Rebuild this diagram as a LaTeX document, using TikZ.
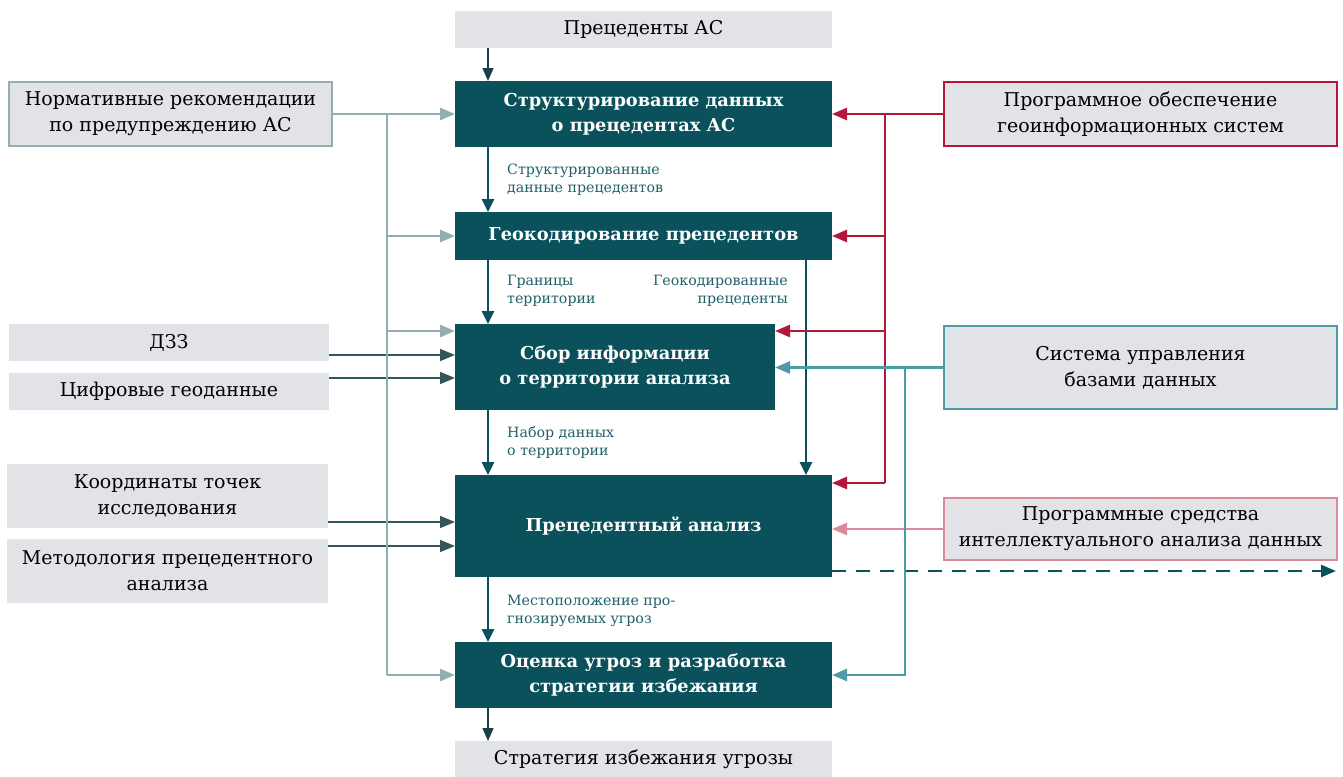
\documentclass[tikz,border=0pt]{standalone}
\usepackage{fontspec}
\setmainfont{DejaVu Serif}
\usetikzlibrary{arrows.meta,calc}
\definecolor{darkteal}{HTML}{0A515C}
\definecolor{lightgray}{HTML}{E2E3E7}
\definecolor{grayline}{HTML}{93ADB0}
\definecolor{crimson}{HTML}{B3183B}
\definecolor{tealc}{HTML}{4C9BA6}
\definecolor{pinkc}{HTML}{DB8A9B}
\definecolor{inputdark}{HTML}{1B3F47}
\definecolor{labelcol}{HTML}{20606A}
\begin{document}
\begin{tikzpicture}[x=1pt,y=-1pt,
  mainbox/.style={fill=darkteal, text=white, font=\bfseries\fontsize{17.8}{25}\selectfont, align=center, inner sep=0pt, outer sep=0pt, anchor=north west},
  graybox/.style={fill=lightgray, text=black, font=\fontsize{19}{26}\selectfont, align=center, inner sep=0pt, outer sep=0pt, anchor=north west},
  lbl/.style={text=labelcol, font=\fontsize{14.2}{18}\selectfont, inner sep=0pt},
  tip/.style={-{Triangle[length=15pt,width=12pt]}},
  mainarrow/.style={-{Triangle[length=13pt,width=12pt]}, draw=darkteal, line width=2.8pt},
  thinarrow/.style={-{Triangle[length=13pt,width=11pt]}, draw=inputdark, line width=1.5pt},
  inarrow/.style={tip, draw=inputdark!80!grayline, line width=1.5pt},
  garrow/.style={tip, draw=grayline, line width=2.7pt},
  gline/.style={draw=grayline, line width=2.7pt},
  carrow/.style={tip, draw=crimson, line width=2.5pt},
  cline/.style={draw=crimson, line width=2.5pt},
  tarrow/.style={tip, draw=tealc, line width=2.5pt},
  parrow/.style={tip, draw=pinkc, line width=2.5pt},
  dasharrow/.style={tip, draw=darkteal, line width=2.5pt, dash pattern=on 14pt off 10pt}]
\useasboundingbox (0,0) rectangle (1343,776);
% centre column
\node[graybox, minimum width=377pt, minimum height=37pt] (top) at (455,11) {Прецеденты АС};
\node[mainbox, minimum width=377pt, minimum height=66pt] (s1) at (455,81) {Структурирование данных\\о прецедентах АС};
\node[mainbox, minimum width=377pt, minimum height=48pt] (s2) at (455,212) {Геокодирование прецедентов};
\node[mainbox, minimum width=320pt, minimum height=86pt] (s3) at (455,324) {Сбор информации\\о территории анализа};
\node[mainbox, minimum width=377pt, minimum height=102pt] (s4) at (455,475) {Прецедентный анализ};
\node[mainbox, minimum width=377pt, minimum height=66pt] (s5) at (455,642) {Оценка угроз и разработка\\стратегии избежания};
\node[graybox, minimum width=377pt, minimum height=36pt] (bot) at (455,741) {Стратегия избежания угрозы};
% left column
\node[graybox, draw=grayline, line width=2.5pt, minimum width=323pt, minimum height=64pt] (norm) at (9,82) {Нормативные рекомендации\\по предупреждению АС};
\node[graybox, minimum width=320pt, minimum height=37pt] (dzz) at (9,324) {ДЗЗ};
\node[graybox, minimum width=320pt, minimum height=37pt] (cifr) at (9,373) {Цифровые геоданные};
\node[graybox, minimum width=321pt, minimum height=64pt] (koord) at (7,464) {Координаты точек\\исследования};
\node[graybox, minimum width=321pt, minimum height=64pt] (metod) at (7,539) {Методология прецедентного\\анализа};
% right column
\node[graybox, draw=crimson, line width=2.3pt, minimum width=393pt, minimum height=64pt] (po) at (944,82) {Программное обеспечение\\геоинформационных систем};
\node[graybox, draw=tealc, line width=2.3pt, minimum width=393pt, minimum height=83pt] (subd) at (944,326) {Система управления\\базами данных};
\node[graybox, draw=pinkc, line width=2.3pt, minimum width=393pt, minimum height=62pt] (ias) at (944,498) {Программные средства\\интеллектуального анализа данных};
% helper coordinates
\coordinate (xl) at (488,0);
\coordinate (xr) at (806,0);
\coordinate (gbot) at (387,675);
\coordinate (cx) at (885,0);
\coordinate (tx) at (905,0);
\coordinate (y331) at (0,331);
\coordinate (y355) at (0,355);
\coordinate (y378) at (0,378);
\coordinate (y483) at (0,483);
\coordinate (y522) at (0,522);
\coordinate (y546) at (0,546);
\coordinate (outR) at (1336,571);
% input lines (under the grey trunk)
\draw[inarrow] (dzz.east |- y355) -- (s3.west |- y355);
\draw[inarrow] (cifr.east |- y378) -- (s3.west |- y378);
\draw[inarrow] (koord.east |- y522) -- (s4.west |- y522);
\draw[inarrow] (metod.east |- y546) -- (s4.west |- y546);
% grey
\draw[garrow] (norm.east) -- (s1.west);
\draw[gline] (norm.east -| gbot) -- (gbot);
\draw[garrow] (gbot |- s2.west) -- (s2.west);
\draw[garrow] (gbot |- y331) -- (s3.west |- y331);
\draw[garrow] (gbot) -- (s5.west);
% main flow
\draw[thinarrow] (top.south -| xl) -- (s1.north -| xl);
\draw[mainarrow] (s1.south -| xl) -- (s2.north -| xl);
\draw[mainarrow] (s2.south -| xl) -- (s3.north -| xl);
\draw[mainarrow] (s3.south -| xl) -- (s4.north -| xl);
\draw[mainarrow] (s4.south -| xl) -- (s5.north -| xl);
\draw[thinarrow] (s5.south -| xl) -- (bot.north -| xl);
\draw[mainarrow] (s2.south -| xr) -- (s4.north -| xr);
% crimson
\draw[carrow] (po.west) -- (s1.east);
\draw[cline] (po.west -| cx) -- (cx |- y483);
\draw[carrow] (cx |- s2.east) -- (s2.east);
\draw[carrow] (cx |- y331) -- (s3.east |- y331);
\draw[carrow] (cx |- y483) -- (s4.east |- y483);
% pink and dashed
\draw[parrow] (ias.west) -- (s4.east |- ias.west);
\draw[dasharrow] (s4.east |- outR) -- (outR);
% teal
\draw[tarrow] (subd.west) -- (s3.east |- subd.west);
\draw[tarrow] (tx |- subd.west) |- (s5.east);
% labels
\node[lbl, anchor=north west, align=left] (l1) at (507,164) {Структурированные\\данные прецедентов};
\node[lbl, anchor=north west, align=left] (l2) at (507,275) {Границы\\территории};
\node[lbl, anchor=north east, align=right] (l3) at (788,275) {Геокодированные\\прецеденты};
\node[lbl, anchor=north west, align=left] (l4) at (507,426) {Набор данных\\о территории};
\node[lbl, anchor=north west, align=left] (l5) at (507,595) {Местоположение про-\\гнозируемых угроз};
\end{tikzpicture}
\end{document}
